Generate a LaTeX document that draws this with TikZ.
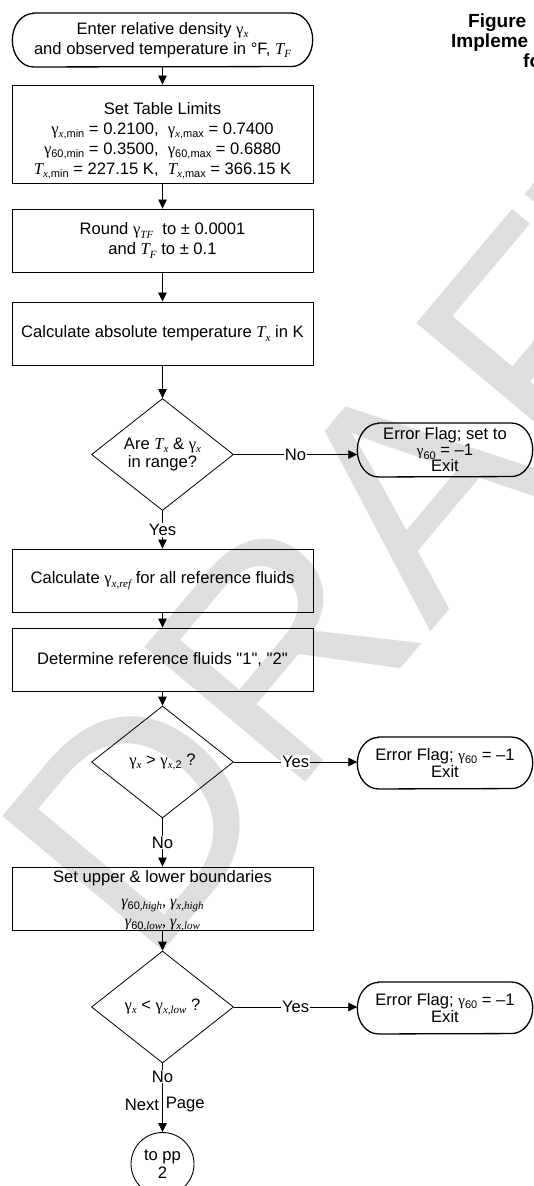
\documentclass[tikz,border=0pt]{standalone}
\usepackage{fontspec}
\setmainfont{Liberation Sans}[Ligatures=TeXOff]
\newfontfamily\serif{Liberation Serif}
\usetikzlibrary{arrows.meta,shapes.geometric}

% symbols and subscripts
\newcommand{\gam}{{\serif γ}}
\newcommand{\gamsm}{{\serif\fontsize{15}{15}\selectfont γ}}
\newcommand{\gamit}{{\serif\itshape γ}}
\newcommand{\Tv}{{\serif\itshape T}}
\newcommand{\ix}{{\serif\itshape x}}
\newcommand{\lowr}[1]{\raisebox{-0.2em}{\fontsize{11}{11}\selectfont #1}}
\newcommand{\lowit}[1]{\raisebox{-0.2em}{\fontsize{11}{11}\selectfont\serif\itshape #1}}

% outline of a terminal: straight top and bottom, elliptical ends
\newcommand{\termoutline}[2]{%
  \draw[termline] ([xshift=21pt]#1.north west) -- ([xshift=-21pt]#1.north east)
    arc[start angle=90, end angle=-90, x radius=21pt, y radius=#2pt]
    -- ([xshift=21pt]#1.south west)
    arc[start angle=-90, end angle=-270, x radius=21pt, y radius=#2pt] -- cycle;}

\begin{document}
\begin{tikzpicture}[x=1pt,y=-1pt,
  font=\fontsize{16.6}{20}\selectfont,
  every node/.style={inner sep=0pt},
  proc/.style={draw, line width=0.9pt, minimum width=301pt, align=center},
  term/.style={align=center},
  decision/.style={draw, line width=0.8pt, diamond, aspect=1.27,
    minimum width=142pt, minimum height=112pt, align=center},
  termline/.style={line width=1.3pt},
  conn/.style={line width=0.8pt, -{Triangle[length=9pt,width=8.5pt]}},
  lbl/.style={fill=white, inner sep=1pt},
  hdr/.style={font=\bfseries\fontsize{19}{19}\selectfont},
  watermark/.style={text=black!13, font=\fontsize{305}{305}\selectfont},
]
\useasboundingbox (0,0) rectangle (534,1186);
\clip (0,0) rectangle (534,1186);

% watermark behind everything
\node[watermark, anchor=base west, rotate=50] (wm) at (147.5,970.5) {DRAFT};

% title (runs off the right edge)
\node[hdr, anchor=base west] (fig)  at (468,27) {Figure};
\node[hdr, anchor=base west] (impl) at (451,47) {Impleme};
\node[hdr, anchor=base west] (fo)   at (523,67) {fo};

% main column
\node[term, minimum width=300pt, minimum height=53.5pt] (start) at (162.5,40)
  {Enter relative density \gam\lowit{x}\\and observed temperature in °F, \Tv\lowit{F}};
\termoutline{start}{26.75}

\node[proc, minimum height=98pt] (limits) at (162.5,134)
  {\rule{0pt}{26pt}Set Table Limits\\
   \gam\lowr{\ix,min} = 0.2100,\ \ \gam\lowr{\ix,max} = 0.7400\\
   \gam\lowr{60,min} = 0.3500,\ \ \gam\lowr{60,max} = 0.6880\\
   \Tv\lowr{\ix,min} = 227.15 K,\ \ \Tv\lowr{\ix,max} = 366.15 K};

\node[proc, minimum height=63pt] (round) at (162.5,240.5)
  {Round \gam\lowit{TF}\ \ to ± 0.0001\\and \Tv\lowit{F} to ± 0.1};

\node[proc, minimum height=63pt] (abs) at (162.5,333.5)
  {Calculate absolute temperature \Tv\lowit{x} in K};

\node[decision, font=\fontsize{16.6}{17.7}\selectfont] (d1) at (162.5,454.5)
  {Are \Tv\lowit{x} \& \gam\lowit{x}\\in range?};

\node[term, minimum width=175pt, minimum height=53.5pt,
  font=\fontsize{16.6}{16}\selectfont] (err1) at (445,450)
  {Error Flag; set to\\\gamsm\lowr{60} = –1\\Exit};
\termoutline{err1}{26.75}

\node[proc, minimum height=63pt] (refs) at (162.5,580.5)
  {Calculate \gam\lowit{x,ref} for all reference fluids};

\node[proc, minimum height=63pt] (fluids) at (162.5,659.5)
  {Determine reference fluids "1", "2"};

\node[decision] (d2) at (162.5,762)
  {\gam\lowit{x} > \gam\lowr{\ix,2} ?};

\node[term, minimum width=175pt, minimum height=51.5pt,
  font=\fontsize{16.6}{17}\selectfont] (err2) at (445,763)
  {Error Flag; \gamsm\lowr{60} = –1\\Exit};
\termoutline{err2}{25.75}

\node[proc, minimum height=63pt] (bounds) at (162.5,898.5)
  {Set upper \& lower boundaries\\[3.5pt]
   \smash{\fontsize{16}{20}\selectfont\gamit\lowr{60\serif\itshape ,high}{\serif, }\gamit\lowit{x,high}}\\
   \smash{\fontsize{16}{20}\selectfont\gamit\lowr{60\serif\itshape ,low}{\serif, }\gamit\lowit{x,low}}};

\node[decision] (d3) at (162.5,1007)
  {\gam\lowit{x} < \gam\lowit{x,low} ?};

\node[term, minimum width=175pt, minimum height=51.5pt,
  font=\fontsize{16.6}{17}\selectfont] (err3) at (445,1008)
  {Error Flag; \gamsm\lowr{60} = –1\\Exit};
\termoutline{err3}{25.75}

\node[draw, circle, line width=0.9pt, minimum size=63pt, align=center,
  font=\fontsize{16.6}{18.5}\selectfont] (pp) at (162.5,1164) {to pp\\2};

% connectors
\draw[conn] (start) -- (limits);
\draw[conn] (limits) -- (round);
\draw[conn] (round) -- (abs);
\draw[conn] (abs) -- (d1);
\draw[conn] (d1.east) -- node[lbl] {No} (d1.east -| err1.west);
\draw[conn] (d1) -- node[lbl] {Yes} (refs);
\draw[conn] (refs) -- (fluids);
\draw[conn] (fluids) -- (d2);
\draw[conn] (d2.east) -- node[lbl] {Yes} (d2.east -| err2.west);
\draw[conn] (d2) -- node[lbl] {No} (bounds);
\draw[conn] (bounds) -- (d3);
\draw[conn] (d3.east) -- node[lbl] {Yes} (d3.east -| err3.west);
\draw[conn] (d3) -- node[lbl, pos=0.19] {No}
  node[pos=0.6, anchor=east, xshift=-3pt] {Next}
  node[pos=0.6, anchor=west, xshift=3pt] {Page} (pp);
\end{tikzpicture}
\end{document}
